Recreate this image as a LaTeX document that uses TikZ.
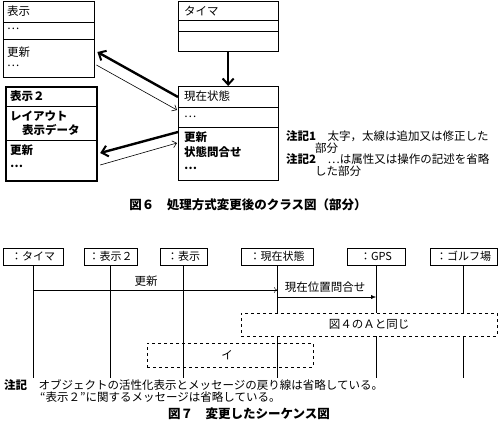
\documentclass[tikz,border=0pt]{standalone}
\usepackage{fontspec}
\setmainfont{Noto Sans CJK JP}
\usetikzlibrary{arrows.meta,calc}
\tikzset{
  txt/.style={font=\fontsize{11.5}{13}\selectfont, inner sep=0pt, anchor=west},
  btxt/.style={txt, font=\fontsize{11.5}{13}\selectfont\bfseries},
  cls/.style={draw, rectangle, anchor=north west, inner sep=0pt},
  obj/.style={draw, rectangle, minimum height=17pt, inner sep=0pt, font=\fontsize{11}{13}\selectfont},
  frag/.style={draw, dashed, rectangle, anchor=north west, inner sep=0pt},
  figcap/.style={font=\fontsize{12.5}{14}\selectfont\bfseries, inner sep=0pt},
  heavy/.style={line width=2.4pt, -{Straight Barb[length=6pt,width=11pt,line width=2pt]}},
  light/.style={line width=0.6pt, -{Straight Barb[length=4pt,width=7pt]}}
}
\begin{document}
\begin{tikzpicture}[x=1pt,y=-1pt]
  \useasboundingbox (0,0) rectangle (500,433);
  % class diagram
  \node[cls, minimum width=91pt, minimum height=76pt] (hyouji) at (3,1) {};
  \draw ($(hyouji.north west)+(0,21)$) -- ($(hyouji.north east)+(0,21)$);
  \draw ($(hyouji.north west)+(0,38)$) -- ($(hyouji.north east)+(0,38)$);
  \node[txt] (hyoujiname) at (7,11) {表示};
  \node[txt] (hyoujiattr) at (7,29) {…};
  \node[txt] (hyoujiop) at (7,52) {更新};
  \node[txt] (hyoujiop2) at (7,66) {…};

  \node[cls, line width=2.2pt, minimum width=91pt, minimum height=94pt] (hyouji2) at (5,86) {};
  \draw[line width=1pt] ($(hyouji2.north west)+(0,21)$) -- ($(hyouji2.north east)+(0,21)$);
  \draw[line width=1pt] ($(hyouji2.north west)+(0,54)$) -- ($(hyouji2.north east)+(0,54)$);
  \node[btxt] (hyouji2name) at (10,96) {表示２};
  \node[btxt] (hyouji2attr) at (10,116) {レイアウト};
  \node[btxt] (hyouji2attr2) at (22,130) {表示データ};
  \node[btxt] (hyouji2op) at (10,150) {更新};
  \node[btxt] (hyouji2op2) at (10,166) {…};

  \node[cls, minimum width=100pt, minimum height=50pt] (timer) at (178,1) {};
  \draw ($(timer.north west)+(0,19)$) -- ($(timer.north east)+(0,19)$);
  \draw ($(timer.north west)+(0,30)$) -- ($(timer.north east)+(0,30)$);
  \node[txt] (timername) at (184,11) {タイマ};

  \node[cls, minimum width=100pt, minimum height=94pt] (genzai) at (178,86) {};
  \draw ($(genzai.north west)+(0,21)$) -- ($(genzai.north east)+(0,21)$);
  \draw ($(genzai.north west)+(0,41)$) -- ($(genzai.north east)+(0,41)$);
  \node[txt] (genzainame) at (184,96) {現在状態};
  \node[txt] (genzaiattr) at (184,117) {…};
  \node[btxt] (genzaiop) at (184,137) {更新};
  \node[btxt] (genzaiop2) at (184,152) {状態問合せ};
  \node[btxt] (genzaiop3) at (184,168) {…};

  \draw[heavy] (timer.south) -- (genzai.north);
  \draw[heavy] ($(genzai.north west)+(0,11)$) -- ($(hyouji.north east)+(3,51)$);
  \draw[light] ($(hyouji.north east)+(2,64)$) -- ($(genzai.north west)+(-1,24)$);
  \draw[heavy] ($(genzai.north west)+(0,46)$) -- ($(hyouji2.north east)+(2,67)$);
  \draw[light] ($(hyouji2.north east)+(2,79)$) -- ($(genzai.north west)+(-1,57)$);

  \node[txt] (note1) at (286,136) {\textbf{注記1}　太字，太線は追加又は修正した};
  \node[txt] (note1b) at (315,148) {部分};
  \node[txt] (note2) at (286,159) {\textbf{注記2}　…は属性又は操作の記述を省略};
  \node[txt] (note2b) at (315,171) {した部分};

  \node[figcap] (fig6) at (248,205) {図６　処理方式変更後のクラス図（部分）};

  % sequence diagram
  \node[obj, minimum width=60pt] (tm) at (33,256.5) {：タイマ};
  \node[obj, minimum width=53pt] (h2) at (110.5,256.5) {：表示２};
  \node[obj, minimum width=47pt] (hy) at (183.5,256.5) {：表示};
  \node[obj, minimum width=72pt] (gz) at (277,256.5) {：現在状態};
  \node[obj, minimum width=58pt] (gps) at (376,256.5) {：GPS};
  \node[obj, minimum width=67pt] (golf) at (463.5,256.5) {：ゴルフ場};
  \foreach \o in {tm,h2,hy,gz,gps,golf}
    \draw (\o.south) -- (\o.south |- 0,378);

  \draw[-{To[length=3pt,width=6pt]}] (tm.south |- 0,290) -- (gz.south |- 0,290);
  \node[txt, anchor=center] (msgupd) at (146,281) {更新};
  \draw[-{Latex[length=5pt,width=4pt]}] (gz.south |- 0,297) -- (gps.south |- 0,297);
  \node[txt, anchor=center] (msgpos) at (325,287) {現在位置問合せ};

  \node[frag, fill=white, minimum width=256pt, minimum height=23pt] (fragA) at (241,313) {};
  \node[txt, anchor=center] (fragAlbl) at (fragA.center) {図４のＡと同じ};
  \node[frag, minimum width=166pt, minimum height=24pt] (fragI) at (147,343) {};
  \node[txt, anchor=center] (fragIlbl) at ($(fragI.center)+(-3,0)$) {イ};

  \node[txt] (note3) at (4,385) {\textbf{注記}　オブジェクトの活性化表示とメッセージの戻り線は省略している。};
  \node[txt] (note3b) at (40,397) {“表示２”に関するメッセージは省略している。};

  \node[figcap] (fig7) at (249,414) {図７　変更したシーケンス図};
\end{tikzpicture}
\end{document}
